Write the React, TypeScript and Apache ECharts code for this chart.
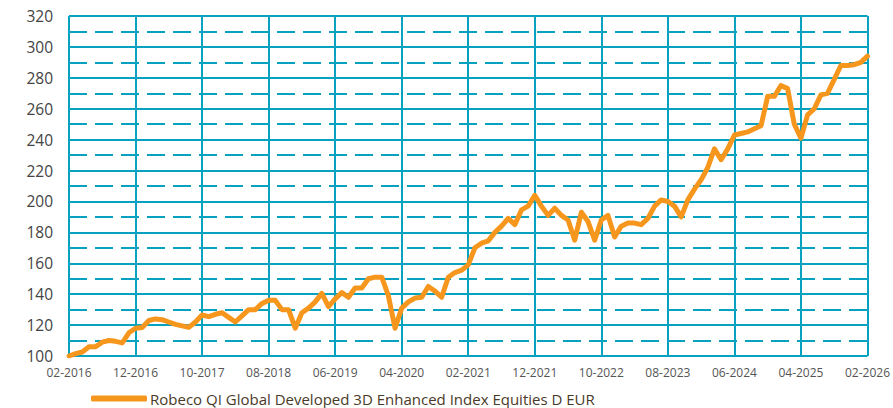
import React, { useEffect, useRef } from "react";
import * as echarts from "echarts";

const startMonth = 2; // February
const startYear = 2016;
const monthCount = 121;

const categories: string[] = Array.from({ length: monthCount }, (_, i) => {
  const total = startYear * 12 + (startMonth - 1) + i;
  const y = Math.floor(total / 12);
  const m = (total % 12) + 1;
  return `${String(m).padStart(2, "0")}-${y}`;
});

const seriesName = "Robeco QI Global Developed 3D Enhanced Index Equities D EUR";

const values2016_2019: number[] = [
  100, 101.5, 102.6, 106, 106, 109, 110, 109.5, 108.5, 115,
  118, 118.5, 123, 124, 123.5, 122, 120.5, 119.5, 118.5, 122,
  126.5, 125.5, 127, 128, 125, 122, 126, 130, 130, 134,
  136, 136, 130, 130, 118, 128, 131, 135, 140.5, 132,
];
const values2019_2022: number[] = [
  137, 141, 138, 144, 144, 150, 151, 151, 139, 118,
  131, 135, 137.5, 138, 145, 142, 138, 151, 154, 155.5,
  159, 170, 173, 174.5, 180, 184, 189, 185, 194.5, 197,
  204, 197, 191, 195.6, 191, 188, 175, 193, 187, 175,
];
const values2022_2026: number[] = [
  188, 191, 177, 184, 186, 186, 185, 189, 197, 201,
  200, 197, 190, 201, 208, 214, 222, 234, 227, 234,
  243, 244, 245, 247, 249, 268, 268, 275, 273, 250,
  241, 256, 260, 269, 270, 279, 288, 288, 288.5, 290,
  294,
];
const values = [...values2016_2019, ...values2019_2022, ...values2022_2026];

const yMin = 100;
const yMax = 320;
const yInterval = 20;

const gridColor = "#06A2C0";
const lineColor = "#F7961C";

export default function App() {
  const ref = useRef<HTMLDivElement>(null);
  useEffect(() => {
    if (!ref.current) return;
    const chart = echarts.init(ref.current, undefined, { renderer: "svg" });
    chart.setOption({
      animation: false,
      textStyle: { fontFamily: "Open Sans" },
      grid: { left: 69, right: 23, top: 16, bottom: 52, containLabel: false },
      legend: {
        show: true,
        left: 86,
        top: 386,
        itemWidth: 56,
        itemHeight: 6,
        itemGap: 6,
        icon: "roundRect",
        textStyle: { fontSize: 15, color: "#4a3a28", fontFamily: "Open Sans", padding: [0, 0, 0, -2] },
        data: [{ name: seriesName, icon: "roundRect" }],
      },
      xAxis: {
        type: "category",
        data: categories,
        boundaryGap: false,
        axisLine: { show: false },
        axisTick: { show: false },
        axisLabel: {
          interval: 9,
          fontSize: 12,
          color: "#555",
          margin: 10,
        },
        splitLine: {
          show: true,
          interval: 9,
          lineStyle: { color: gridColor, width: 2 },
        },
      },
      yAxis: {
        type: "value",
        min: yMin,
        max: yMax,
        interval: yInterval,
        axisLine: { show: false },
        axisTick: { show: false },
        axisLabel: { fontSize: 15.5, color: "#444", margin: 16 },
        splitLine: { show: true, lineStyle: { color: gridColor, width: 2 } },
        minorTick: { show: false, splitNumber: 2 },
        minorSplitLine: {
          show: true,
          lineStyle: { color: gridColor, width: 2, type: [18, 8] },
        },
      },
      series: [
        {
          name: seriesName,
          type: "line",
          data: values,
          showSymbol: false,
          symbol: "none",
          lineStyle: { color: lineColor, width: 5, join: "round", cap: "round" },
          itemStyle: { color: lineColor },
          z: 5,
        },
      ],
    });
    return () => chart.dispose();
  }, []);
  return (
    <div
      ref={ref}
      style={{ position: "fixed", left: 0, top: 0, width: 893, height: 408, background: "#fff" }}
    />
  );
}
